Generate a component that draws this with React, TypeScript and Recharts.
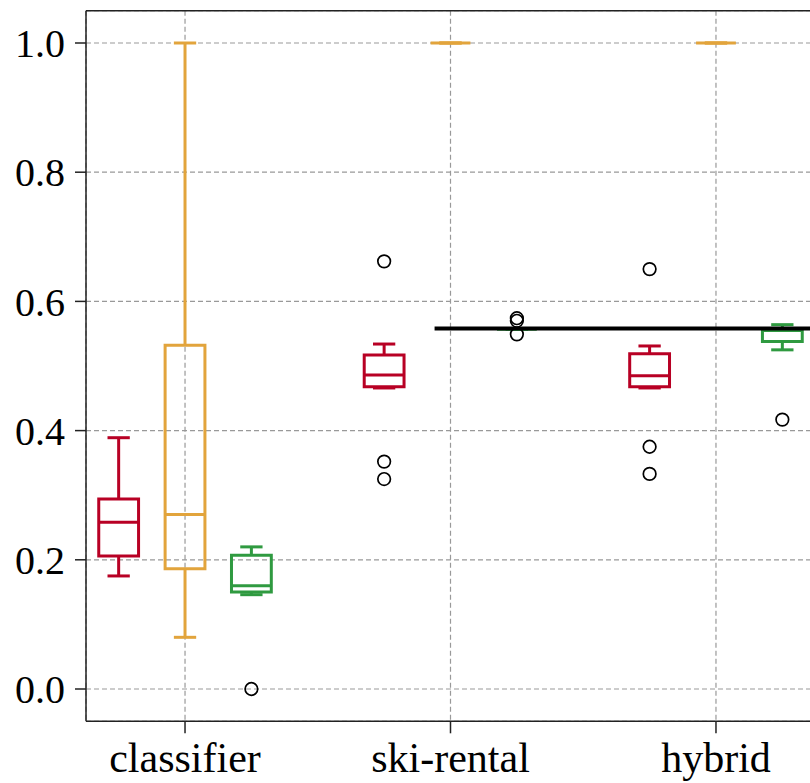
import { ComposedChart, XAxis, YAxis, CartesianGrid, Scatter, ReferenceArea, ReferenceLine } from 'recharts'

const groups = ['classifier', 'ski-rental', 'hybrid']
const yTicks = [0, 0.2, 0.4, 0.6, 0.8, 1.0]

// [whisker low, Q1, median, Q3, whisker high], one row per group
const redStats = [
    [0.175, 0.206, 0.258, 0.294, 0.389],
    [0.466, 0.468, 0.486, 0.517, 0.534],
    [0.466, 0.468, 0.485, 0.519, 0.531],
]
const orangeStats = [
    [0.08, 0.186, 0.27, 0.532, 1.0],
    [1.0, 1.0, 1.0, 1.0, 1.0],
    [1.0, 1.0, 1.0, 1.0, 1.0],
]
const greenStats = [
    [0.146, 0.15, 0.16, 0.207, 0.22],
    [0.557, 0.557, 0.557, 0.557, 0.557],
    [0.525, 0.538, 0.555, 0.557, 0.564],
]

const redOutliers = [[], [0.662, 0.352, 0.325], [0.65, 0.375, 0.333]]
const orangeOutliers = [[], [], []]
const greenOutliers = [[0.0], [0.574, 0.57, 0.549], [0.417]]

const baseline = 0.558

const series = [
    { key: 'red', color: '#b80024', offset: -0.25, stats: redStats, outliers: redOutliers },
    { key: 'orange', color: '#e2a43c', offset: 0, stats: orangeStats, outliers: orangeOutliers },
    { key: 'green', color: '#2f9a40', offset: 0.25, stats: greenStats, outliers: greenOutliers },
]

const HALF_BOX = 0.075
const HALF_CAP = 0.042
const LW = 3
const yFont = { fontSize: 40, fill: '#000', fontFamily: '"Liberation Serif", serif' }
const xFont = { fontSize: 42, fill: '#000', fontFamily: '"Liberation Serif", serif' }

const outlierPoints = series.flatMap(s =>
    s.outliers.flatMap((vals, gi) => vals.map(v => ({ x: gi + 1 + s.offset, y: v })))
)

function boxElements() {
    const els: any[] = []
    series.forEach(s => {
        s.stats.forEach((st, gi) => {
            const [lo, q1, med, q3, hi] = st
            const x = gi + 1 + s.offset
            const k = `${s.key}-${gi}`
            if (q3 > q1) {
                els.push(
                    <ReferenceArea key={`${k}-box`} x1={x - HALF_BOX} x2={x + HALF_BOX} y1={q1} y2={q3}
                        fill="none" fillOpacity={0} stroke={s.color} strokeWidth={LW} ifOverflow="visible" />
                )
            }
            els.push(
                <ReferenceLine key={`${k}-med`} segment={[{ x: x - HALF_BOX, y: med }, { x: x + HALF_BOX, y: med }]}
                    stroke={s.color} strokeWidth={LW} ifOverflow="visible" />,
                <ReferenceLine key={`${k}-whi`} segment={[{ x, y: q3 }, { x, y: hi }]}
                    stroke={s.color} strokeWidth={LW} ifOverflow="visible" />,
                <ReferenceLine key={`${k}-wlo`} segment={[{ x, y: lo }, { x, y: q1 }]}
                    stroke={s.color} strokeWidth={LW} ifOverflow="visible" />,
                <ReferenceLine key={`${k}-chi`} segment={[{ x: x - HALF_CAP, y: hi }, { x: x + HALF_CAP, y: hi }]}
                    stroke={s.color} strokeWidth={LW} ifOverflow="visible" />,
                <ReferenceLine key={`${k}-clo`} segment={[{ x: x - HALF_CAP, y: lo }, { x: x + HALF_CAP, y: lo }]}
                    stroke={s.color} strokeWidth={LW} ifOverflow="visible" />
            )
        })
    })
    return els
}

const Ring = (props: any) => (
    <circle cx={props.cx} cy={props.cy} r={6.3} fill="none" stroke="#000" strokeWidth={1.7} />
)

export default function App() {
    return (
        <div style={{ position: 'absolute', left: 0, top: 0, width: 810, height: 783, overflow: 'hidden', background: '#fff' }}>
            <ComposedChart width={830} height={783} margin={{ top: 10.7, right: 15, left: 0, bottom: 0 }}>
                <CartesianGrid stroke="#999" strokeDasharray="5 3" strokeWidth={1.2} />
                <XAxis
                    type="number"
                    dataKey="x"
                    domain={[0.627, 3.373]}
                    allowDataOverflow
                    ticks={[1, 2, 3]}
                    tickFormatter={(v: number) => groups[Math.round(v) - 1]}
                    height={61.7}
                    tickSize={12}
                    tickMargin={9}
                    tick={xFont}
                    stroke="#222"
                    strokeWidth={1.5}
                />
                <YAxis
                    type="number"
                    dataKey="y"
                    domain={[-0.05, 1.05]}
                    allowDataOverflow
                    ticks={yTicks}
                    tickFormatter={(v: number) => v.toFixed(1)}
                    width={86}
                    tickSize={11}
                    tickMargin={10}
                    tick={yFont}
                    stroke="#222"
                    strokeWidth={1.5}
                />
                <ReferenceLine y={1.05} stroke="#222" strokeWidth={1.5} ifOverflow="visible" />
                {boxElements()}
                <ReferenceLine segment={[{ x: 1.94, y: baseline }, { x: 3.373, y: baseline }]}
                    stroke="#000" strokeWidth={4} ifOverflow="visible" />
                <Scatter data={outlierPoints} shape={<Ring />} isAnimationActive={false} />
            </ComposedChart>
        </div>
    )
}
